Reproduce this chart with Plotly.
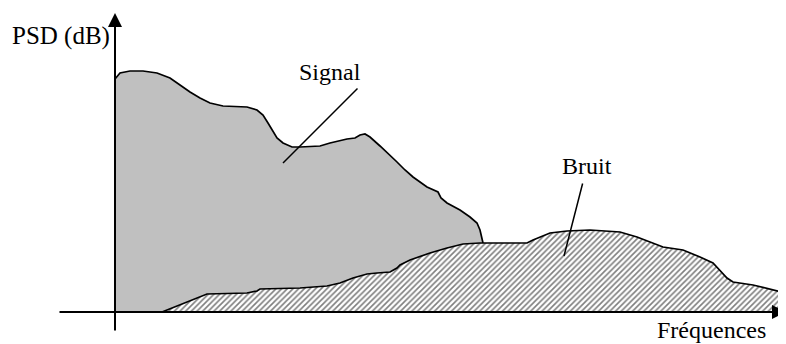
import plotly.graph_objects as go

# Signal PSD curve (frequency units, dB units relative to axis origin)
signal_freq = [0, 5, 15, 28, 42, 55, 65, 75, 85, 95, 108, 132, 142, 148, 153, 158, 162, 168, 177, 185,
               205, 215, 232, 240, 245, 250, 255, 265, 275, 282, 290, 298, 312, 323, 326, 332, 345, 355,
               362, 365, 368]
signal_db = [233, 239, 241, 241, 239, 234, 227, 220, 214, 209, 206, 205, 202, 197, 189, 180, 174, 169, 165, 165,
             166, 169, 173, 174, 177, 178, 175, 166, 157, 150, 142, 135, 125, 120, 114, 109, 102, 95,
             89, 82, 69]

# Noise PSD curve
noise_freq = [47, 65, 85, 92, 132, 142, 145, 185, 212, 225, 238, 252, 262, 275, 282, 285, 295, 315, 332, 348,
              365, 412, 418, 435, 452, 475, 505, 522, 548, 568, 585, 598, 612, 618, 638, 655, 671]
noise_db = [0, 7, 15, 18, 19, 21, 23, 24, 26, 29, 34, 38, 39, 40, 44, 47, 52, 59, 64, 68,
            69, 69, 72, 79, 81, 82, 80, 75, 65, 62, 55, 49, 34, 30, 27, 23, 19]

FONT = "Times New Roman, Liberation Serif, serif"

fig = go.Figure()

# Signal filled area (down to baseline)
sx = [signal_freq[0]] + signal_freq + [signal_freq[-1], signal_freq[0]]
sy = [0] + signal_db + [0, 0]
fig.add_trace(go.Scatter(x=sx, y=sy, mode="lines", fill="toself", fillcolor="#c0c0c0",
                         line=dict(width=0), hoverinfo="skip", showlegend=False))
fig.add_trace(go.Scatter(x=signal_freq, y=signal_db, mode="lines",
                         line=dict(color="black", width=1.7), hoverinfo="skip", showlegend=False))

# Noise hatched area
nx = noise_freq + [noise_freq[-1], noise_freq[0]]
ny = noise_db + [0, 0]
fig.add_trace(go.Scatter(x=nx, y=ny, mode="lines", fill="toself", fillcolor="white",
                         fillpattern=dict(shape="/", bgcolor="white", fgcolor="black", size=4, solidity=0.4),
                         line=dict(width=0), hoverinfo="skip", showlegend=False))
fig.add_trace(go.Scatter(x=noise_freq, y=noise_db, mode="lines",
                         line=dict(color="black", width=1.7), hoverinfo="skip", showlegend=False))

annotations = [
    # vertical axis
    dict(x=0, y=299, ax=0, ay=-20, xref="x", yref="y", axref="x", ayref="y",
         showarrow=True, arrowhead=2, arrowsize=1.4, arrowwidth=2, arrowcolor="black", text="", standoff=0),
    # horizontal axis
    dict(x=671, y=0, ax=-57, ay=0, xref="x", yref="y", axref="x", ayref="y",
         showarrow=True, arrowhead=2, arrowsize=1.4, arrowwidth=2, arrowcolor="black", text="", standoff=0),
    # pointer lines
    dict(x=168, y=149, ax=244, ay=225, xref="x", yref="y", axref="x", ayref="y",
         showarrow=True, arrowhead=0, arrowwidth=1.5, arrowcolor="black", text=""),
    dict(x=449, y=56, ax=468, ay=130, xref="x", yref="y", axref="x", ayref="y",
         showarrow=True, arrowhead=0, arrowwidth=1.5, arrowcolor="black", text=""),
    # labels
    dict(x=-54, y=276, xref="x", yref="y", text="PSD (dB)", showarrow=False,
         font=dict(family=FONT, size=25, color="black")),
    dict(x=215, y=240, xref="x", yref="y", text="Signal", showarrow=False,
         font=dict(family=FONT, size=24, color="black")),
    dict(x=472, y=146, xref="x", yref="y", text="Bruit", showarrow=False,
         font=dict(family=FONT, size=24, color="black")),
    dict(x=596, y=-18, xref="x", yref="y", text="Fréquences", showarrow=False,
         font=dict(family=FONT, size=24, color="black")),
]

# The page body has an 8px margin: size the figure to fit the 786x344 window.
fig.update_layout(
    width=778, height=336,
    margin=dict(l=0, r=0, t=0, b=0),
    paper_bgcolor="white", plot_bgcolor="white",
    xaxis=dict(range=[-107, 671], visible=False, fixedrange=True),
    yaxis=dict(range=[-32, 304], visible=False, fixedrange=True),
    annotations=annotations,
    showlegend=False,
)

fig.write_html("out.html")
